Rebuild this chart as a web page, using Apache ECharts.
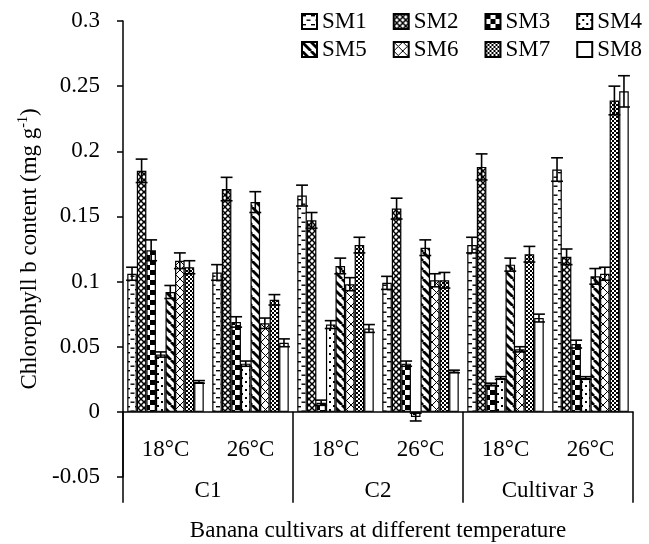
<!DOCTYPE html>
<html>
<head>
<meta charset="utf-8">
<script src="https://cdn.jsdelivr.net/npm/echarts@6/dist/echarts.min.js"></script>
<style>
  html, body { margin: 0; padding: 0; background: #fff; }
  #chart { width: 649px; height: 544px; }
</style>
</head>
<body>
<div id="chart"></div>
<script>
// categories
var cultivars = ['C1', 'C2', 'Cultivar 3'];
var temps = ['18°C', '26°C'];
var seriesNames = ['SM1', 'SM2', 'SM3', 'SM4', 'SM5', 'SM6', 'SM7', 'SM8'];

// values, order: C1 18, C1 26, C2 18, C2 26, C3 18, C3 26
var sm1 = [0.106, 0.107, 0.166, 0.099, 0.128, 0.186];
var sm2 = [0.185, 0.171, 0.147, 0.156, 0.188, 0.119];
var sm3 = [0.124, 0.069, 0.007, 0.037, 0.021, 0.052];
var sm4 = [0.044, 0.037, 0.067, -0.004, 0.026, 0.026];
var sm5 = [0.092, 0.161, 0.112, 0.126, 0.113, 0.104];
var sm6 = [0.116, 0.068, 0.098, 0.101, 0.048, 0.106];
var sm7 = [0.111, 0.086, 0.128, 0.101, 0.121, 0.239];
var sm8 = [0.023, 0.053, 0.064, 0.031, 0.072, 0.246];

// error bars (+/-)
var err1 = [0.005, 0.006, 0.008, 0.005, 0.006, 0.009];
var err2 = [0.009, 0.009, 0.006, 0.008, 0.010, 0.006];
var err3 = [0.008, 0.004, 0.002, 0.002, 0.001, 0.003];
var err4 = [0.002, 0.002, 0.003, 0.003, 0.001, 0.001];
var err5 = [0.005, 0.008, 0.006, 0.006, 0.005, 0.006];
var err6 = [0.006, 0.004, 0.005, 0.005, 0.002, 0.005];
var err7 = [0.005, 0.004, 0.006, 0.006, 0.006, 0.011];
var err8 = [0.001, 0.003, 0.003, 0.001, 0.003, 0.012];

var yMin = -0.05, yMax = 0.3, yStep = 0.05;

var values = [sm1, sm2, sm3, sm4, sm5, sm6, sm7, sm8];
var errors = [err1, err2, err3, err4, err5, err6, err7, err8];

var categories = [];
cultivars.forEach(function (c) {
  temps.forEach(function (t) { categories.push(c + '|' + t); });
});

var FONT = 'Liberation Serif';
var FS = 23;

// grid box; category axes sit on the zero line
var gridTop = 21, gridBottom = 67;
var plotH = 544 - gridTop - gridBottom;
var zeroOffset = -plotH * (0 - yMin) / (yMax - yMin);

// fill patterns
function tile(size, draw) {
  var c = document.createElement('canvas');
  c.width = size; c.height = size;
  var g = c.getContext('2d');
  g.fillStyle = '#fff';
  g.fillRect(0, 0, size, size);
  g.fillStyle = '#000';
  g.strokeStyle = '#000';
  if (draw) draw(g, size);
  return { image: c, repeat: 'repeat' };
}
function diag(g, s, dir) {
  [-s, 0, s].forEach(function (o) {
    g.beginPath();
    if (dir > 0) { g.moveTo(o, 0); g.lineTo(o + s, s); }
    else { g.moveTo(o + s, 0); g.lineTo(o, s); }
    g.stroke();
  });
}
var patterns = [
  tile(9, function (g) { g.fillRect(0, 1, 4, 1.4); g.fillRect(4.5, 5.5, 4, 1.4); }),
  tile(6, function (g, s) { g.lineWidth = 1.5; diag(g, s, 1); diag(g, s, -1); }),
  tile(10, function (g) { g.fillRect(0, 0, 5, 5); g.fillRect(5, 5, 5, 5); }),
  tile(8, function (g) { g.fillRect(1, 1, 2, 2); g.fillRect(5, 5, 2, 2); }),
  tile(9, function (g, s) { g.lineWidth = 2.8; diag(g, s, 1); }),
  tile(9, function (g, s) { g.lineWidth = 1; diag(g, s, 1); diag(g, s, -1); }),
  tile(4, function (g) { g.fillRect(0, 0, 2, 2); g.fillRect(2, 2, 2, 2); }),
  '#fff'
];

function errRender(k) {
  return function (params, api) {
    var cat = api.value(0), v = api.value(1), e = api.value(2);
    var band = api.size([1, 0])[0];
    var bw = band * 0.9 / 8;
    var cx = api.coord([cat, 0])[0] + (k - 3.5) * bw;
    var yHi = api.coord([cat, v + e])[1];
    var yLo = api.coord([cat, v - e])[1];
    var hw = bw * 0.62;
    var st = { stroke: '#000', lineWidth: 1.6 };
    return {
      type: 'group',
      children: [
        { type: 'line', shape: { x1: cx, y1: yHi, x2: cx, y2: yLo }, style: st },
        { type: 'line', shape: { x1: cx - hw, y1: yHi, x2: cx + hw, y2: yHi }, style: st },
        { type: 'line', shape: { x1: cx - hw, y1: yLo, x2: cx + hw, y2: yLo }, style: st }
      ]
    };
  };
}

var series = [];
seriesNames.forEach(function (name, k) {
  series.push({
    name: name,
    type: 'bar',
    data: values[k],
    barGap: '0%',
    barCategoryGap: '10%',
    itemStyle: { color: patterns[k], borderColor: '#000', borderWidth: 1.2 }
  });
});
seriesNames.forEach(function (name, k) {
  series.push({
    name: name + ' err',
    type: 'custom',
    z: 3,
    renderItem: errRender(k),
    encode: { x: 0, y: 1 },
    data: values[k].map(function (v, i) { return [i, v, errors[k][i]]; })
  });
});

var textBase = { fontFamily: FONT, fontSize: FS, color: '#000' };
var lineStyle = { color: '#000', width: 1.5 };

var legendBase = {
  left: 301,
  orient: 'horizontal',
  padding: 0,
  itemWidth: 15,
  itemHeight: 15,
  itemGap: 26,
  icon: 'rect',
  textStyle: textBase
};

var chart = echarts.init(document.getElementById('chart'));
chart.setOption({
  animation: false,
  backgroundColor: '#fff',
  grid: { left: 123, right: 16, top: gridTop, bottom: gridBottom, containLabel: false, outerBoundsMode: 'none' },
  legend: [
    Object.assign({}, legendBase, { top: 10, data: seriesNames.slice(0, 4) }),
    Object.assign({}, legendBase, { top: 38, data: seriesNames.slice(4, 8) })
  ],
  xAxis: [
    {
      type: 'category',
      data: categories,
      position: 'bottom',
      offset: zeroOffset,
      axisLine: { show: true, onZero: false, lineStyle: lineStyle },
      axisTick: { show: false },
      axisLabel: Object.assign({}, textBase, {
        interval: 0, margin: 27,
        formatter: function (v) { return v.split('|')[1]; }
      }),
      z: 5
    },
    {
      type: 'category',
      data: cultivars,
      position: 'bottom',
      offset: zeroOffset,
      axisLine: { show: false, onZero: false },
      axisTick: { show: true, interval: 0, length: 91, lineStyle: lineStyle },
      axisLabel: Object.assign({}, textBase, { interval: 0, margin: 68 }),
      name: 'Banana cultivars at different temperature',
      nameLocation: 'middle',
      nameGap: 108,
      nameTextStyle: textBase
    }
  ],
  yAxis: {
    type: 'value',
    min: yMin,
    max: yMax,
    interval: yStep,
    axisLine: { show: true, lineStyle: lineStyle },
    axisTick: { show: true, length: 6, lineStyle: lineStyle },
    splitLine: { show: false },
    axisLabel: Object.assign({}, textBase, { margin: 23 }),
    name: '{a|Chlorophyll b content (mg g}{s|-1}{a|)}',
    nameLocation: 'middle',
    nameGap: 72,
    nameRotate: 90,
    nameTextStyle: {
      fontFamily: FONT, fontSize: FS, color: '#000',
      rich: {
        a: { fontFamily: FONT, fontSize: FS, color: '#000', lineHeight: 26 },
        s: { fontFamily: FONT, fontSize: 14, color: '#000', lineHeight: 14, verticalAlign: 'top' }
      }
    }
  },
  series: series
});
</script>
</body>
</html>
